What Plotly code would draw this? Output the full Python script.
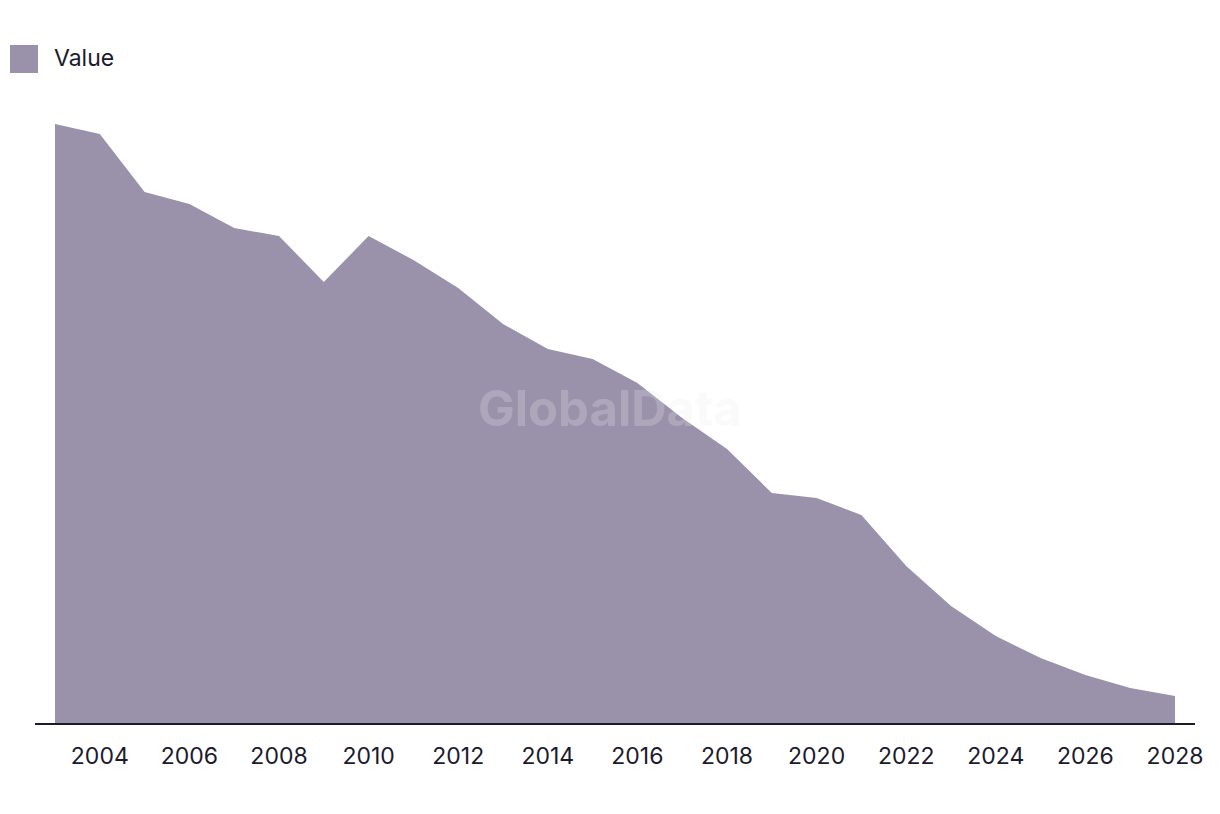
import plotly.graph_objects as go

years = list(range(2003, 2029))
values = [599, 589, 531, 519, 495, 487, 441, 487, 463, 435, 399, 374, 364, 340,
          305, 274, 230, 225, 208, 157, 117, 87, 65, 48, 35, 27]
tick_vals = list(range(2004, 2029, 2))
tick_text = [str(t) for t in tick_vals]

FILL = "#9A91AA"
TEXT = "#1B1A2E"
FONT = "Inter"

fig = go.Figure()
fig.add_trace(go.Scatter(
    x=years, y=values, mode="lines", fill="tozeroy",
    line=dict(width=0, color=FILL), fillcolor=FILL,
    name="Value", showlegend=False, hoverinfo="x+y"))

fig.update_layout(
    width=1220, height=814,
    margin=dict(l=35, r=25, t=100, b=91),
    paper_bgcolor="white", plot_bgcolor="white",
    font=dict(family=FONT, color=TEXT, size=23),
    xaxis=dict(range=[2003 - 20/44.8, 2028 + 20/44.8], tickvals=tick_vals, ticktext=tick_text,
               showgrid=False, zeroline=False, showline=True, linecolor=TEXT, linewidth=2,
               ticks="", ticklabelstandoff=11, tickfont=dict(size=23, family=FONT, color=TEXT)),
    yaxis=dict(range=[0, 623], visible=False, showgrid=False, zeroline=False),
    shapes=[dict(type="rect", xref="paper", yref="paper",
                 x0=-25/1160, x1=3/1160, y0=(723-45)/623, y1=(723-73)/623,
                 fillcolor=FILL, line=dict(width=0))],
    annotations=[
        dict(text="Value", xref="paper", yref="paper", x=17/1160, y=(723-58)/623,
             xanchor="left", yanchor="middle", showarrow=False,
             font=dict(size=23, family=FONT, color=TEXT)),
        dict(text="<b>GlobalData</b>", xref="paper", yref="paper", x=(610-35)/1160, y=(723-408)/623,
             xanchor="center", yanchor="middle", showarrow=False,
             font=dict(size=49, family=FONT, color="rgba(235,235,240,0.25)")),
    ],
)

fig.write_html("out.html")
